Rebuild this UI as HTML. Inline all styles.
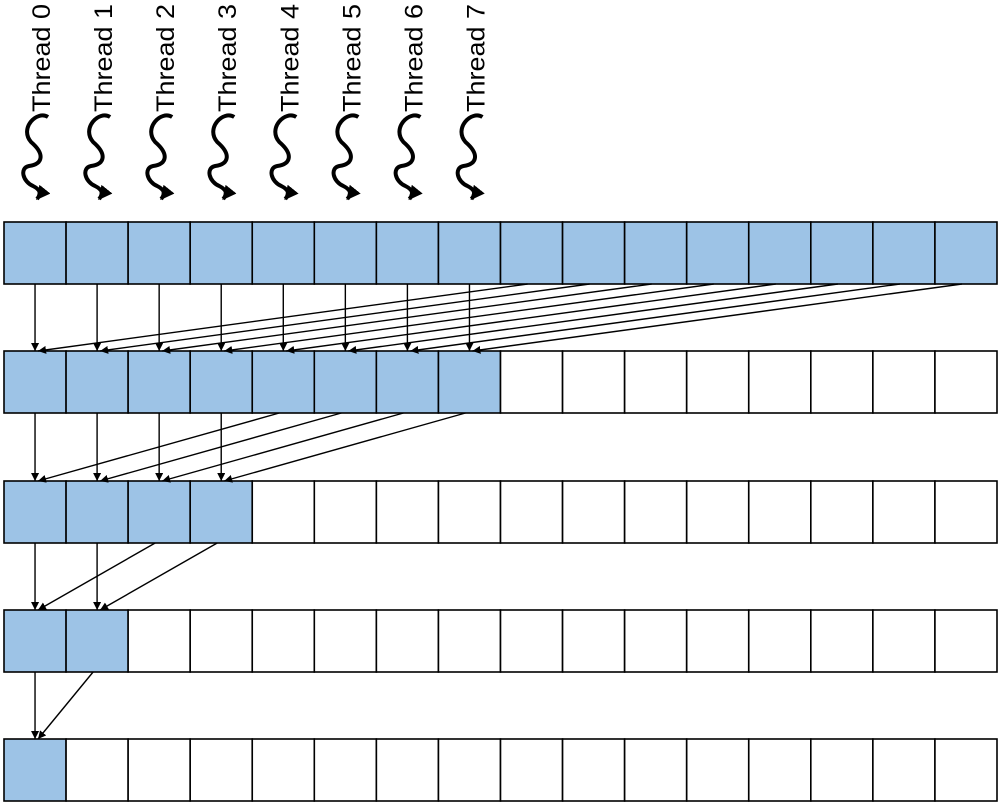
<!DOCTYPE html>
<html><head><meta charset="utf-8"><style>
html,body{margin:0;padding:0;background:#fff;}
svg{display:block;}
</style></head><body>
<svg id="chart" width="1001" height="805" viewBox="0 0 1001 805" xmlns="http://www.w3.org/2000/svg">
<defs>
<marker id="ah" viewBox="0 0 10 10" refX="10" refY="5" markerWidth="8" markerHeight="8" orient="auto-start-reverse" markerUnits="userSpaceOnUse">
<path d="M0,0 L10,5 L0,10 z" fill="#000"/></marker>
<marker id="ah2" viewBox="0 0 10 10" refX="9" refY="5" markerWidth="14" markerHeight="14" orient="auto" markerUnits="userSpaceOnUse">
<path d="M0,0 L10,5 L0,10 z" fill="#000"/></marker>
</defs>
<g id="threads"></g>
<g id="rows"></g>
<g id="arrows"></g>
</svg>
<script>
const threadLabels = ["Thread 0","Thread 1","Thread 2","Thread 3","Thread 4","Thread 5","Thread 6","Thread 7"];
const rowActive = [16, 8, 4, 2, 1];
const cellCount = 16;
const NS = "http://www.w3.org/2000/svg";
const x0 = 4, cw = 62.0625, ch = 62;
const rowTops = [222, 351, 481, 610, 739];
function mk(t, a, p){const e=document.createElementNS(NS,t);for(const k in a)e.setAttribute(k,a[k]);p.appendChild(e);return e;}
const cx = i => x0 + cw*i + cw/2;
const tg = document.getElementById('threads');
threadLabels.forEach((lab,i)=>{
  const x = cx(i);
  const t = mk('text',{x:0,y:0,transform:`translate(${x+15},112) rotate(-90)`,'font-family':'Liberation Sans, sans-serif','font-size':'25',textLength:'108',lengthAdjust:'spacingAndGlyphs',fill:'#000'},tg);
  t.textContent = lab;
  
  
  const p = mk('path',{d:`M${x+13},117 C${x+2},110 ${x-16},128 ${x-4},142 C${x+10},154 ${x+8},164 ${x-6},166 C${x-16},168 ${x-12},182 ${x-2},186 C${x+6},190 ${x+6},194 ${x+2},199`,fill:'none',stroke:'#000','stroke-width':'4','marker-end':'url(#ah2)'},tg);
  
  
});
const rg = document.getElementById('rows');
rowTops.forEach((y,r)=>{
  for(let c=0;c<cellCount;c++){
    const e = mk('rect',{x:x0+cw*c,y:y,width:cw,height:ch,fill:c<rowActive[r]?'#9dc3e6':'#fff',stroke:'#000','stroke-width':'1.6'},rg);
    
    
  }
});
const ag = document.getElementById('arrows');
for(let r=0;r<rowTops.length-1;r++){
  const half = rowActive[r+1];
  const y1 = rowTops[r]+ch, y2 = rowTops[r+1];
  for(let j=0;j<half;j++){
    const a = mk('line',{x1:cx(j),y1:y1,x2:cx(j),y2:y2,stroke:'#000','stroke-width':'1.4','marker-end':'url(#ah)'},ag);
    
    
    const d = mk('line',{x1:cx(j+half)-4,y1:y1,x2:cx(j)+3,y2:y2,stroke:'#000','stroke-width':'1.4','marker-end':'url(#ah)'},ag);
    
    
  }
}
</script>
</body></html>
